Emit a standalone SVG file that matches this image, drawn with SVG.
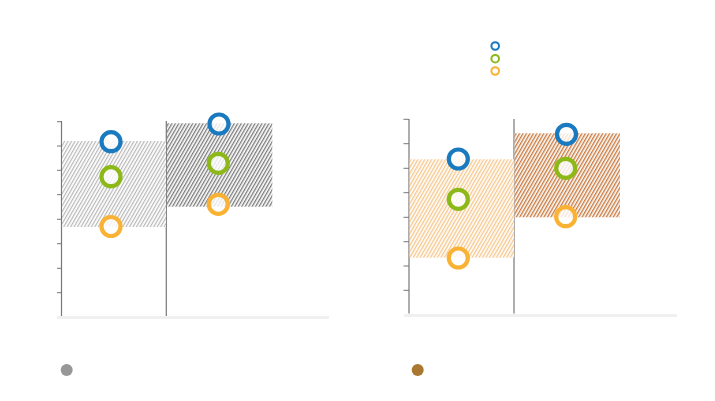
<svg xmlns="http://www.w3.org/2000/svg" width="715" height="401" viewBox="0 0 715 401">
<defs>
<pattern id="hLight" width="3" height="3" patternUnits="userSpaceOnUse" patternTransform="rotate(30)"><rect width="3" height="3" fill="#fff"/><rect width="1.2" height="3" fill="#b8b8b8"/></pattern>
<pattern id="hDark" width="3" height="3" patternUnits="userSpaceOnUse" patternTransform="rotate(30)"><rect width="3" height="3" fill="#fff"/><rect width="1.3" height="3" fill="#7a7a7a"/></pattern>
<pattern id="hPeach" width="3" height="3" patternUnits="userSpaceOnUse" patternTransform="rotate(30)"><rect width="3" height="3" fill="#fff"/><rect width="1.3" height="3" fill="#f8c688"/></pattern>
<pattern id="hBrown" width="3" height="3" patternUnits="userSpaceOnUse" patternTransform="rotate(30)"><rect width="3" height="3" fill="#fff"/><rect width="1.4" height="3" fill="#c97a40"/></pattern>
</defs>
<style>
.axis{stroke:#777;stroke-width:1.2;fill:none}
.tick{stroke:#777;stroke-width:1}
.base{fill:#f0f0f0}
.ring{fill:#fff;fill-opacity:0.8;stroke-width:4.2}
.lg{fill:#fff;stroke-width:2}
.b{stroke:#1a7abf}.g{stroke:#8cb818}.o{stroke:#f9b233}
</style>
<rect width="715" height="401" fill="#fff"/>
<g id="chart-left-axes">
<rect class="base" x="57" y="316" width="272" height="3"/>
<line class="axis" x1="61.5" y1="121" x2="61.5" y2="316"/>
<line class="axis" x1="166.3" y1="121" x2="166.3" y2="316"/>
<g class="tick">
<line x1="57" y1="121.7" x2="61.5" y2="121.7"/>
<line x1="57" y1="146" x2="61.5" y2="146"/>
<line x1="57" y1="170.3" x2="61.5" y2="170.3"/>
<line x1="57" y1="194.7" x2="61.5" y2="194.7"/>
<line x1="57" y1="219.3" x2="61.5" y2="219.3"/>
<line x1="57" y1="243.7" x2="61.5" y2="243.7"/>
<line x1="57" y1="268.3" x2="61.5" y2="268.3"/>
<line x1="57" y1="292.7" x2="61.5" y2="292.7"/>
</g>
</g>
<g id="bar-left-1"><rect x="62" y="141" width="104" height="86" fill="url(#hLight)"/>
<circle class="ring b" cx="111" cy="141.7" r="9.5"/>
<circle class="ring g" cx="111" cy="176.7" r="9.5"/>
<circle class="ring o" cx="111" cy="226.5" r="9.5"/></g>
<g id="bar-left-2"><rect x="167" y="123.3" width="105.3" height="83.4" fill="url(#hDark)"/>
<circle class="ring b" cx="219" cy="124" r="9.5"/>
<circle class="ring g" cx="218.3" cy="163.3" r="9.5"/>
<circle class="ring o" cx="218.3" cy="204.3" r="9.5"/></g>
<g id="chart-right-axes">
<rect class="base" x="404" y="314" width="273" height="3"/>
<line class="axis" x1="409" y1="119" x2="409" y2="313.5"/>
<line class="axis" x1="514" y1="119" x2="514" y2="313.5"/>
<g class="tick">
<line x1="403.5" y1="119.3" x2="409" y2="119.3"/>
<line x1="403.5" y1="143.7" x2="409" y2="143.7"/>
<line x1="403.5" y1="168.3" x2="409" y2="168.3"/>
<line x1="403.5" y1="192.7" x2="409" y2="192.7"/>
<line x1="403.5" y1="217.3" x2="409" y2="217.3"/>
<line x1="403.5" y1="241.7" x2="409" y2="241.7"/>
<line x1="403.5" y1="266" x2="409" y2="266"/>
<line x1="403.5" y1="290.3" x2="409" y2="290.3"/>
</g>
</g>
<g id="bar-right-1"><rect x="409.6" y="159.3" width="104.4" height="98.4" fill="url(#hPeach)"/>
<circle class="ring b" cx="458.3" cy="159" r="9.5"/>
<circle class="ring g" cx="458.3" cy="199.3" r="9.5"/>
<circle class="ring o" cx="458.3" cy="258" r="9.5"/></g>
<g id="bar-right-2"><rect x="514.6" y="133.3" width="105.4" height="84" fill="url(#hBrown)"/>
<circle class="ring b" cx="566.5" cy="134.3" r="9.5"/>
<circle class="ring g" cx="565.7" cy="168.3" r="9.5"/>
<circle class="ring o" cx="565.7" cy="216.7" r="9.5"/></g>
<g id="legend-top">
<circle class="lg b" cx="495.2" cy="46" r="3.8"/>
<circle class="lg g" cx="495.2" cy="58.7" r="3.8"/>
<circle class="lg o" cx="495.2" cy="71" r="3.8"/>
</g>
<g id="legend-bottom">
<circle cx="66.7" cy="370" r="6" fill="#979797"/>
<circle cx="417.7" cy="370" r="6" fill="#a97730"/>
</g>
</svg>
